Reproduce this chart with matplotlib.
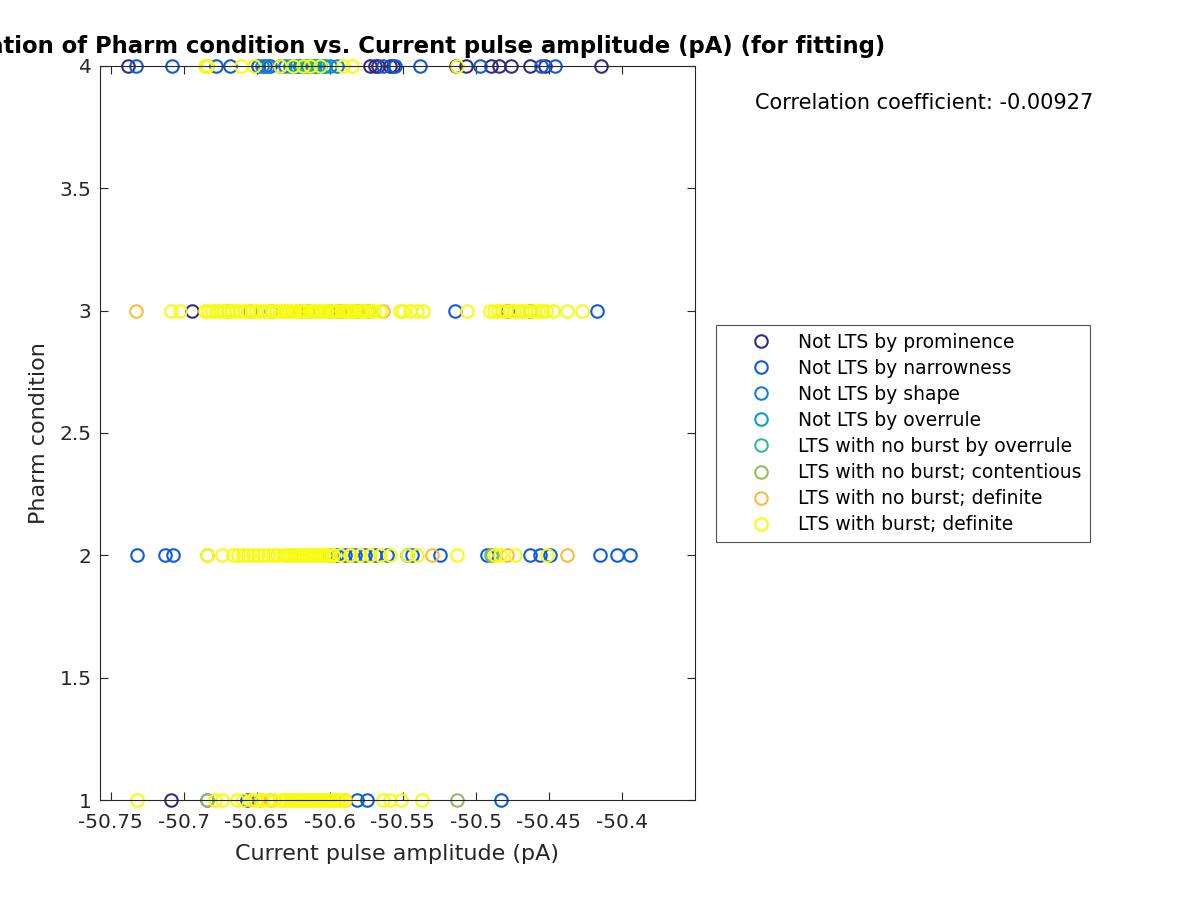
import matplotlib
matplotlib.use("Agg")
import matplotlib.pyplot as plt

# Legend labels and parula(8) colours
labels = ["Not LTS by prominence", "Not LTS by narrowness", "Not LTS by shape",
          "Not LTS by overrule", "LTS with no burst by overrule",
          "LTS with no burst; contentious", "LTS with no burst; definite",
          "LTS with burst; definite"]
colors = [(0.2081, 0.1663, 0.5292), (0.0592, 0.3599, 0.8684), (0.0780, 0.5041, 0.8385),
          (0.0232, 0.6325, 0.7730), (0.2276, 0.7089, 0.5954), (0.6085, 0.7299, 0.3796),
          (0.9871, 0.7348, 0.2438), (0.9763, 0.9831, 0.0538)]

# Current pulse amplitude (pA) per pharm condition, one dict per class
prominence = {
    4: [-50.7382, -50.5724, -50.5690, -50.5669, -50.5587, -50.5566, -50.5135, -50.5066,
        -50.4895, -50.4840, -50.4758, -50.4628, -50.4525, -50.4142],
    3: [-50.6943, -50.5929, -50.4786, -50.4628],
    2: [],
    1: [-50.7087],
}
narrowness = {
    4: [-50.7327, -50.7080, -50.6779, -50.6683, -50.6491, -50.6443, -50.6409, -50.6340,
        -50.6203, -50.6066, -50.5635, -50.5553, -50.5381, -50.4971, -50.4553, -50.4457],
    3: [-50.5943, -50.5813, -50.5737, -50.5142, -50.4170],
    2: [-50.7320, -50.7128, -50.7073, -50.5950, -50.5895, -50.5827, -50.5758, -50.5690,
        -50.5608, -50.5471, -50.5436, -50.5245, -50.4923, -50.4628, -50.4560, -50.4491,
        -50.4149, -50.4032, -50.3943],
    1: [-50.6566, -50.5813, -50.5744, -50.4827],
}
shape = {
    4: [-50.6464, -50.6422, -50.6306, -50.6272, -50.6238, -50.6203, -50.6169, -50.6135,
        -50.6101, -50.6066, -50.6032, -50.5998, -50.5950],
    3: [-50.6150],
    2: [-50.5861, -50.6000],
    1: [-50.6842],
}
overrule = {
    4: [-50.6231, -50.6190, -50.6148, -50.6108, -50.6080, -50.6039],
    3: [-50.6000],
    2: [],
    1: [],
}
nb_overrule = {
    4: [-50.6169],
    3: [-50.6400],
    2: [-50.4895],
    1: [],
}
nb_contentious = {
    4: [-50.6840],
    3: [-50.6697, -50.6546, -50.6203],
    2: [-50.6842, -50.4888],
    1: [-50.6842, -50.5128],
}
nb_definite = {
    4: [],
    3: [-50.7327, -50.5635, -50.5895],
    2: [-50.5299, -50.4786, -50.4375, -50.5861],
    1: [-50.6477, -50.6409, -50.5895],
}
burst_definite = {
    4: [-50.6854, -50.6840, -50.6607, -50.6518, -50.6340, -50.6251, -50.6183, -50.6135,
        -50.6066, -50.5909, -50.5847, -50.5128],
    3: [-50.7087, -50.7025, -50.6854, -50.6834, -50.6806, -50.6779, -50.6751, -50.6724,
        -50.6697, -50.6669, -50.6642, -50.6614, -50.6587, -50.6559, -50.6532, -50.6505,
        -50.6477, -50.6450, -50.6422, -50.6395, -50.6368,
        -50.634, -50.632, -50.630, -50.628, -50.626, -50.624, -50.622, -50.620, -50.618,
        -50.616, -50.614, -50.612, -50.610, -50.608, -50.606, -50.604, -50.602, -50.600,
        -50.598, -50.596, -50.594, -50.592, -50.590, -50.588, -50.586, -50.584, -50.582,
        -50.580, -50.578, -50.576, -50.574, -50.572, -50.570,
        -50.5655, -50.5518, -50.5498, -50.5450, -50.5402, -50.5361, -50.5060, -50.4902,
        -50.4875, -50.4847, -50.4820, -50.4793, -50.4765, -50.4738, -50.4710, -50.4683,
        -50.4655, -50.4628, -50.4601, -50.4573, -50.4546, -50.4518, -50.4470, -50.4375,
        -50.4272],
    2: [-50.6842, -50.6738, -50.6662, -50.6628, -50.6594, -50.6559, -50.6525, -50.6491,
        -50.6457, -50.6422, -50.6388, -50.6361,
        -50.632, -50.630, -50.628, -50.626, -50.624, -50.622, -50.620, -50.618, -50.616,
        -50.614, -50.612, -50.610, -50.608, -50.606, -50.604, -50.602, -50.600, -50.598,
        -50.5929, -50.5861, -50.5792, -50.5724, -50.5655, -50.5587, -50.5471, -50.5402,
        -50.5128, -50.4868, -50.4834, -50.4731, -50.4512],
    1: [-50.7322, -50.6786, -50.6738, -50.6635, -50.6594, -50.6532, -50.6505, -50.6464,
        -50.6422, -50.6381,
        -50.634, -50.632, -50.630, -50.628, -50.626, -50.624, -50.622, -50.620, -50.618,
        -50.616, -50.614, -50.612, -50.610, -50.608, -50.606, -50.604, -50.602, -50.600,
        -50.598, -50.596, -50.594, -50.592, -50.590,
        -50.5635, -50.5587, -50.5512, -50.5368],
}
groups = [prominence, narrowness, shape, overrule, nb_overrule, nb_contentious,
          nb_definite, burst_definite]

x_ticks = [-50.75, -50.7, -50.65, -50.6, -50.55, -50.5, -50.45, -50.4]
y_ticks = [1, 1.5, 2, 2.5, 3, 3.5, 4]
corr_coef = -0.00927

dark = (0.15, 0.15, 0.15)

def main():
    fig = plt.figure(figsize=(12, 9), dpi=100)
    ax = fig.add_axes([0.0833, 0.1111, 0.4958, 0.8156])

    for name, color, rows in zip(labels, colors, groups):
        xs, ys = [], []
        for cond in (4, 3, 2, 1):
            xs += rows[cond]
            ys += [cond] * len(rows[cond])
        ax.plot(xs, ys, 'o', mfc='none', mec=color, ms=9, mew=1.5,
                label=name, clip_on=False)

    ax.set_xlim(-50.7573, -50.350)
    ax.set_ylim(1, 4)
    ax.set_xticks(x_ticks)
    ax.set_xticklabels([f"{t:g}" for t in x_ticks])
    ax.set_yticks(y_ticks)
    ax.set_yticklabels([f"{t:g}" for t in y_ticks])
    ax.tick_params(direction='in', top=True, right=True, length=6, width=0.8,
                   labelsize=14.5, colors=dark)
    ax.tick_params(axis='x', pad=9)
    ax.tick_params(axis='y', pad=6)
    for sp in ax.spines.values():
        sp.set_color(dark)
        sp.set_linewidth(0.8)

    ax.set_xlabel('Current pulse amplitude (pA)', fontsize=16, color=dark, labelpad=9)
    ax.set_ylabel('Pharm condition', fontsize=16, color=dark, labelpad=8)
    ax.set_title('Correlation of Pharm condition vs. Current pulse amplitude (pA) (for fitting)',
                 fontsize=16.4, fontweight='bold', pad=9)

    fig.text(0.629, 1 - 103 / 900, f'Correlation coefficient: {corr_coef:.3g}',
             fontsize=15, va='center', ha='left')

    leg = fig.legend(loc='upper left', bbox_to_anchor=(716 / 1200, 1 - 325 / 900),
                     fontsize=13.5, frameon=True, fancybox=False, edgecolor=dark,
                     borderaxespad=0, handletextpad=0.0, labelspacing=0.38,
                     borderpad=0.4, handlelength=4.0)
    leg.get_frame().set_linewidth(0.8)

    fig.savefig('out.png', dpi=100)

if __name__ == "__main__":
    main()
